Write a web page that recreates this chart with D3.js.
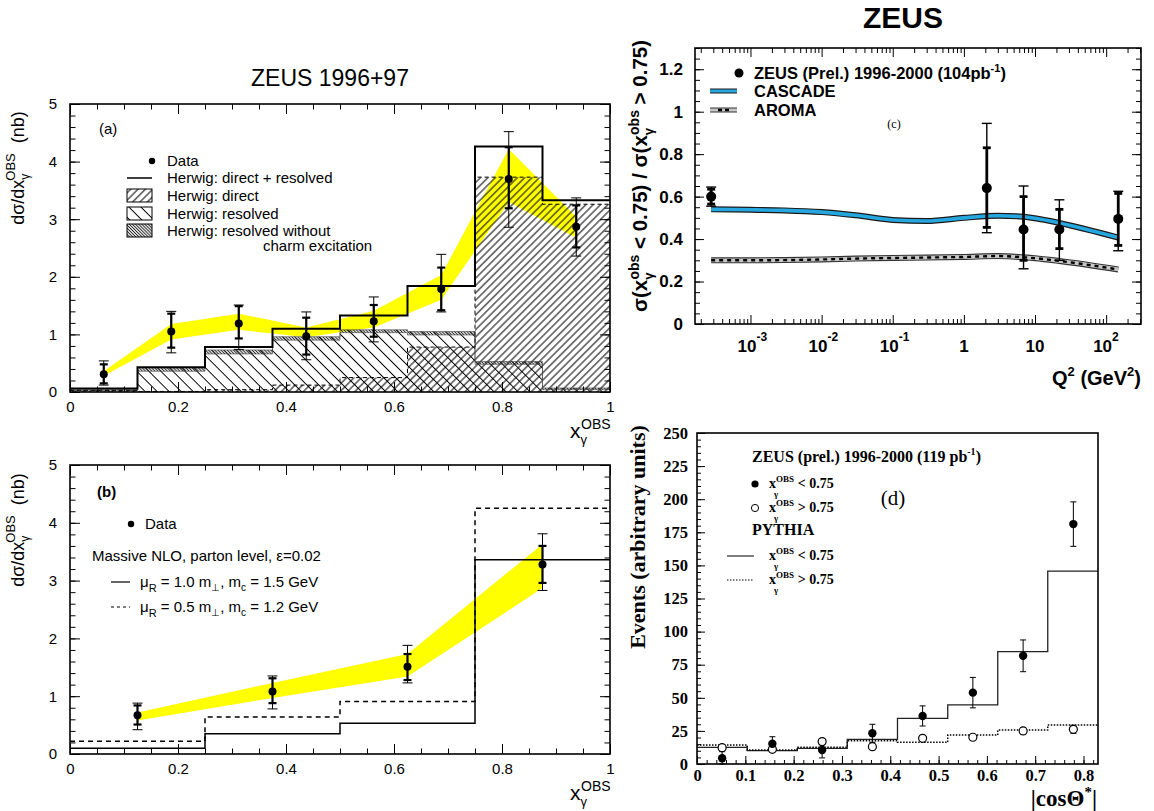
<!DOCTYPE html>
<html>
<head>
<meta charset="utf-8">
<script src="https://cdn.jsdelivr.net/npm/d3@7"></script>
<style>
body { margin: 0; background: #fff; }
svg { display: block; }
text { white-space: pre; }
</style>
</head>
<body>
<div id="chart"></div>
<script>
// ---- panel (a): ZEUS 1996+97, Herwig
var aEdges = [0, 0.125, 0.25, 0.375, 0.5, 0.625, 0.75, 0.875, 1];
var aX = [0.0625, 0.1875, 0.3125, 0.4375, 0.5625, 0.6875, 0.8125, 0.9375];
var aY = [0.31, 1.05, 1.19, 0.97, 1.23, 1.79, 3.70, 2.87];
var aStatLo = [0.15, 0.77, 0.93, 0.65, 0.96, 1.42, 3.19, 2.51];
var aStatHi = [0.48, 1.36, 1.49, 1.29, 1.51, 2.16, 4.25, 3.24];
var aTotLo = [0.12, 0.68, 0.74, 0.56, 0.87, 1.39, 2.86, 2.36];
var aTotHi = [0.54, 1.40, 1.51, 1.39, 1.65, 2.39, 4.52, 3.37];
var aBandLo = [0.28, 0.91, 1.08, 0.95, 1.12, 1.60, 3.30, 2.68];
var aBandHi = [0.36, 1.18, 1.36, 1.12, 1.41, 2.03, 4.22, 3.04];
var aTotal = [0.06, 0.43, 0.78, 1.10, 1.33, 1.84, 4.26, 3.33];
var aDirect = [0.03, 0.01, 0.04, 0.12, 0.25, 0.78, 3.73, 3.26];
var aResolved = [0.04, 0.42, 0.73, 0.96, 1.08, 1.05, 0.53, 0.07];
var aNoCharm = [0.02, 0.36, 0.66, 0.90, 1.03, 0.99, 0.48, 0.04];

// ---- panel (b): massive NLO
var bEdges = [0, 0.25, 0.5, 0.75, 1];
var bX = [0.125, 0.375, 0.625, 0.875];
var bY = [0.67, 1.08, 1.51, 3.28];
var bStatLo = [0.51, 0.88, 1.28, 2.96];
var bStatHi = [0.84, 1.31, 1.73, 3.60];
var bTotLo = [0.42, 0.78, 1.23, 2.83];
var bTotHi = [0.88, 1.35, 1.88, 3.81];
var bBandLo = [0.58, 0.97, 1.34, 2.87];
var bBandHi = [0.72, 1.23, 1.73, 3.63];
var bNlo10 = [0.10, 0.35, 0.53, 3.36];   // muR = 1.0 m, mc = 1.5
var bNlo05 = [0.22, 0.64, 0.91, 4.25];   // muR = 0.5 m, mc = 1.2

// ---- panel (c): ratio vs Q2
var cQ2 = [2.8e-4, 2.1, 6.9, 22, 148];
var cRatio = [0.60, 0.64, 0.445, 0.445, 0.495];
var cStatLo = [0.565, 0.455, 0.30, 0.355, 0.37];
var cStatHi = [0.635, 0.83, 0.60, 0.54, 0.615];
var cTotLo = [0.555, 0.43, 0.26, 0.30, 0.345];
var cTotHi = [0.645, 0.945, 0.65, 0.585, 0.625];
var cCurveQ2 = [2.8e-4, 1e-3, 3e-3, 1e-2, 3e-2, 0.1, 0.3, 1, 3, 7, 10, 22, 148];
var cCascade = [0.540, 0.538, 0.535, 0.527, 0.512, 0.490, 0.485, 0.500, 0.510, 0.505, 0.498, 0.476, 0.407];
var cAroma = [0.300, 0.300, 0.301, 0.304, 0.308, 0.311, 0.313, 0.316, 0.320, 0.314, 0.310, 0.297, 0.257];

// ---- panel (d): |cos theta*|
var dEdges = [0, 0.104, 0.2075, 0.311, 0.415, 0.519, 0.6225, 0.726, 0.83];
var dX = [0.052, 0.156, 0.259, 0.363, 0.467, 0.571, 0.675, 0.779];
var dLow = [4.3, 15.3, 10.6, 23.2, 36.3, 53.9, 81.7, 181.2];
var dLowErr = [5, 5.3, 6, 6.8, 7.6, 11.5, 12, 16.8];
var dHigh = [12.3, 11.1, 16.9, 13.1, 19.4, 20.2, 25.0, 26.2];
var dHighErr = [1.8, 1.5, 2, 2, 2, 2, 2.5, 3];
var dPyLow = [12.6, 10.1, 11.8, 18.6, 34.5, 44.6, 84.9, 145.7];
var dPyHigh = [14.4, 10.6, 12.6, 17.6, 16.4, 21.9, 25.7, 29.5];

// tick labels
var abXTicks = [0, 0.2, 0.4, 0.6, 0.8, 1];
var abYTicks = [0, 1, 2, 3, 4, 5];
var cXTicks = [1e-3, 1e-2, 1e-1, 1, 10, 100];
var cXExp = ["-3", "-2", "-1", "", "", "2"];
var cYTicks = [0, 0.2, 0.4, 0.6, 0.8, 1, 1.2];
var dXTicks = [0, 0.1, 0.2, 0.3, 0.4, 0.5, 0.6, 0.7, 0.8];
var dYTicks = [0, 25, 50, 75, 100, 125, 150, 175, 200, 225, 250];

var SANS = "'Liberation Sans', Arial, sans-serif";
var SERIF = "'Liberation Serif', 'Times New Roman', serif";

var svg = d3.select("#chart").append("svg")
    .attr("width", 1154)
    .attr("height", 811);
svg.append("rect").attr("width", 1154).attr("height", 811).attr("fill", "#fff");

var defs = svg.append("defs");
function hatch(id, angle, gap, sw, color) {
    var p = defs.append("pattern").attr("id", id)
        .attr("patternUnits", "userSpaceOnUse")
        .attr("width", gap).attr("height", gap)
        .attr("patternTransform", "rotate(" + angle + ")");
    p.append("line").attr("x1", gap / 2).attr("y1", 0).attr("x2", gap / 2).attr("y2", gap)
        .attr("stroke", color).attr("stroke-width", sw);
}
hatch("hDirect", 45, 5.2, 1, "#000");
hatch("hResolved", -45, 8.5, 1, "#000");
hatch("hDense", -45, 2.2, 1, "#222");

var xa = d3.scaleLinear().domain([0, 1]).range([70, 610]);
var ya = d3.scaleLinear().domain([0, 5]).range([392, 104]);
var xb = d3.scaleLinear().domain([0, 1]).range([70, 610]);
var yb = d3.scaleLinear().domain([0, 5]).range([754, 465]);
var xc = d3.scaleLog().domain([Math.pow(10, -3.78), Math.pow(10, 2.49)]).range([695, 1141]);
var yc = d3.scaleLinear().domain([0, 1.3]).range([324, 48]);
var xd = d3.scaleLinear().domain([0, 0.83]).range([697, 1098]);
var yd = d3.scaleLinear().domain([0, 250]).range([764, 433]);

function txt(x, y, size, opt) {
    opt = opt || {};
    var t = svg.append("text").attr("x", x).attr("y", y)
        .attr("font-family", opt.serif ? SERIF : SANS)
        .attr("font-size", size)
        .attr("text-anchor", opt.anchor || "start")
        .attr("fill", "#000");
    if (opt.bold) t.attr("font-weight", "bold");
    if (opt.rot) t.attr("transform", "rotate(-90," + x + "," + y + ")");
    return t;
}

// parts: [text, baseline shift, font size, dx]
function rich(t, parts) {
    var cur = 0;
    parts.forEach(function (p) {
        var s = p[1] || 0;
        var ts = t.append("tspan").text(p[0]).attr("dy", s - cur);
        cur = s;
        if (p[2]) ts.attr("font-size", p[2]);
        if (p[3]) ts.attr("dx", p[3]);
    });
    return t;
}

function tickSet(axisFn, scale, vals, len, tx, ty) {
    svg.append("g")
        .attr("transform", "translate(" + tx + "," + ty + ")")
        .call(axisFn(scale).tickValues(vals).tickSize(-len).tickSizeOuter(0).tickFormat(""))
        .call(function (g) {
            g.select(".domain").remove();
            g.selectAll("line").attr("stroke", "#000").attr("stroke-width", 1);
        });
}

function frameTicks(x, y, xMaj, xMin, yMaj, yMin, L, l, all) {
    var X0 = x.range()[0], X1 = x.range()[1], Y0 = y.range()[0], Y1 = y.range()[1];
    tickSet(d3.axisBottom, x, xMaj, L, 0, Y0);
    tickSet(d3.axisBottom, x, xMin, l, 0, Y0);
    tickSet(d3.axisLeft, y, yMaj, L, X0, 0);
    tickSet(d3.axisLeft, y, yMin, l, X0, 0);
    if (all) {
        tickSet(d3.axisTop, x, xMaj, L, 0, Y1);
        tickSet(d3.axisTop, x, xMin, l, 0, Y1);
        tickSet(d3.axisRight, y, yMaj, L, X1, 0);
        tickSet(d3.axisRight, y, yMin, l, X1, 0);
    }
    svg.append("rect").attr("x", X0).attr("y", Y1)
        .attr("width", X1 - X0).attr("height", Y0 - Y1)
        .attr("fill", "none").attr("stroke", "#000").attr("stroke-width", 1.6);
}

function tickLabels(axisFn, scale, vals, fmt, tx, ty, pad, size, opt) {
    opt = opt || {};
    svg.append("g")
        .attr("transform", "translate(" + tx + "," + ty + ")")
        .call(axisFn(scale).tickValues(vals).tickSize(0).tickPadding(pad).tickFormat(fmt))
        .call(function (g) {
            g.select(".domain").remove();
            g.selectAll("line").remove();
            g.attr("font-family", opt.serif ? SERIF : SANS).attr("font-size", size)
                .attr("font-weight", opt.bold ? "bold" : null);
            g.selectAll("text").attr("fill", "#000");
        });
}

function stepPts(edges, vals) {
    var pts = vals.map(function (v, i) { return [edges[i], v]; });
    pts.push([edges[edges.length - 1], vals[vals.length - 1]]);
    return pts;
}

function stepLine(x, y, edges, vals) {
    return d3.line().curve(d3.curveStepAfter)
        .x(function (d) { return x(d[0]); })
        .y(function (d) { return y(d[1]); })(stepPts(edges, vals));
}

function stepArea(x, y, edges, lo, hi) {
    var pts = hi.map(function (v, i) { return [edges[i], lo ? lo[i] : 0, v]; });
    pts.push([edges[edges.length - 1], lo ? lo[lo.length - 1] : 0, hi[hi.length - 1]]);
    return d3.area().curve(d3.curveStepAfter)
        .x(function (d) { return x(d[0]); })
        .y0(function (d) { return y(d[1]); })
        .y1(function (d) { return y(d[2]); })(pts);
}

function band(x, y, xs, lo, hi) {
    var pts = xs.map(function (v, i) { return [v, lo[i], hi[i]]; });
    svg.append("path")
        .attr("d", d3.area()
            .x(function (d) { return x(d[0]); })
            .y0(function (d) { return y(d[1]); })
            .y1(function (d) { return y(d[2]); })(pts))
        .attr("fill", "#ffff00");
}

function errBar(x, y, xv, lo, hi, sw, cap) {
    var g = svg.append("g").attr("stroke", "#000");
    g.append("line").attr("x1", x(xv)).attr("x2", x(xv)).attr("y1", y(lo)).attr("y2", y(hi)).attr("stroke-width", sw);
    [lo, hi].forEach(function (v) {
        g.append("line").attr("x1", x(xv) - cap).attr("x2", x(xv) + cap)
            .attr("y1", y(v)).attr("y2", y(v)).attr("stroke-width", sw);
    });
}

function dataPoints(x, y, xs, ys, statLo, statHi, totLo, totHi, r, wTot, wStat, cap) {
    xs.forEach(function (xv, i) {
        errBar(x, y, xv, totLo[i], totHi[i], wTot, cap);
        errBar(x, y, xv, statLo[i], statHi[i], wStat, cap - 1);
    });
    svg.append("g").selectAll("circle").data(xs).enter().append("circle")
        .attr("cx", function (d) { return x(d); })
        .attr("cy", function (d, i) { return y(ys[i]); })
        .attr("r", r).attr("fill", "#000");
}

var xgParts = [["x", 0, 21], ["\u03b3", 6, 13], ["OBS", -9, 14, -6]];

// =================== panel (a)
txt(330, 86, 23, { anchor: "middle" }).text("ZEUS 1996+97");
band(xa, ya, aX, aBandLo, aBandHi);
svg.append("path").attr("d", stepArea(xa, ya, aEdges, null, aResolved)).attr("fill", "url(#hResolved)");
svg.append("path").attr("d", stepArea(xa, ya, aEdges, null, aDirect)).attr("fill", "url(#hDirect)");
svg.append("path").attr("d", stepArea(xa, ya, aEdges, aNoCharm, aResolved))
    .attr("fill", "url(#hDense)").attr("stroke", "#444").attr("stroke-width", 0.6);
svg.append("path").attr("d", stepLine(xa, ya, aEdges, aDirect))
    .attr("fill", "none").attr("stroke", "#000").attr("stroke-width", 1).attr("stroke-dasharray", "4,3");
svg.append("path").attr("d", stepLine(xa, ya, aEdges, aTotal))
    .attr("fill", "none").attr("stroke", "#000").attr("stroke-width", 2);
dataPoints(xa, ya, aX, aY, aStatLo, aStatHi, aTotLo, aTotHi, 4, 1, 2.2, 5);
frameTicks(xa, ya, abXTicks, xa.ticks(20), abYTicks, ya.ticks(25), 10, 5.5, true);
tickLabels(d3.axisBottom, xa, abXTicks, String, 0, 392, 9, 15);
tickLabels(d3.axisLeft, ya, abYTicks, String, 70, 0, 13, 15);
rich(txt(570, 438, 21), xgParts);
rich(txt(24, 168, 18, { rot: true, anchor: "middle" }),
    [["d\u03c3/dx", 0, 18], ["\u03b3", 5, 12], ["OBS", -9, 13, -7], ["  (nb)", 0, 18]]);

// legend (a)
txt(99, 134, 15).text("(a)");
svg.append("circle").attr("cx", 152).attr("cy", 161).attr("r", 3.2).attr("fill", "#000");
txt(167, 166, 15).text("Data");
svg.append("line").attr("x1", 127).attr("x2", 152).attr("y1", 178).attr("y2", 178)
    .attr("stroke", "#000").attr("stroke-width", 1.5);
txt(167, 183, 15).text("Herwig: direct + resolved");
[["url(#hDirect)", 189, "Herwig: direct"], ["url(#hResolved)", 207, "Herwig: resolved"],
 ["url(#hDense)", 224, "Herwig: resolved without"]].forEach(function (e) {
    svg.append("rect").attr("x", 127).attr("y", e[1]).attr("width", 25).attr("height", 13)
        .attr("fill", e[0]).attr("stroke", "#000").attr("stroke-width", 1);
    txt(167, e[1] + 12, 15).text(e[2]);
});
txt(263, 251, 15).text("charm excitation");

// =================== panel (b)
band(xb, yb, bX, bBandLo, bBandHi);
svg.append("path").attr("d", stepLine(xb, yb, bEdges, bNlo05))
    .attr("fill", "none").attr("stroke", "#000").attr("stroke-width", 1.5).attr("stroke-dasharray", "5,4");
svg.append("path").attr("d", stepLine(xb, yb, bEdges, bNlo10))
    .attr("fill", "none").attr("stroke", "#000").attr("stroke-width", 1.5);
dataPoints(xb, yb, bX, bY, bStatLo, bStatHi, bTotLo, bTotHi, 4, 1, 2.2, 5);
frameTicks(xb, yb, abXTicks, xb.ticks(20), abYTicks, yb.ticks(25), 10, 5.5, true);
tickLabels(d3.axisBottom, xb, abXTicks, String, 0, 754, 9, 15);
tickLabels(d3.axisLeft, yb, abYTicks, String, 70, 0, 13, 15);
rich(txt(570, 800, 21), xgParts);
rich(txt(24, 530, 18, { rot: true, anchor: "middle" }),
    [["d\u03c3/dx", 0, 18], ["\u03b3", 5, 12], ["OBS", -9, 13, -7], ["  (nb)", 0, 18]]);

// legend (b)
txt(97, 497, 15, { bold: true }).text("(b)");
svg.append("circle").attr("cx", 131).attr("cy", 524).attr("r", 3.2).attr("fill", "#000");
txt(145, 529, 15).text("Data");
txt(92, 561, 15).text("Massive NLO, parton level, \u03b5=0.02");
svg.append("line").attr("x1", 111).attr("x2", 130).attr("y1", 582).attr("y2", 582)
    .attr("stroke", "#000").attr("stroke-width", 1.2);
svg.append("line").attr("x1", 111).attr("x2", 130).attr("y1", 607).attr("y2", 607)
    .attr("stroke", "#000").attr("stroke-width", 1.2).attr("stroke-dasharray", "3,3");
[[587, "1.0", "1.5"], [612, "0.5", "1.2"]].forEach(function (e) {
    rich(txt(140, e[0], 15), [["\u03bc", 0], ["R", 5, 11], [" = " + e[1] + " m", 0, 15], ["\u22a5", 4, 10],
        [", m", 0, 15], ["c", 4, 10], [" = " + e[2] + " GeV", 0, 15]]);
});

// =================== panel (c)
txt(903, 28, 30, { bold: true, anchor: "middle" }).text("ZEUS");
var cLine = d3.line().curve(d3.curveMonotoneX)
    .x(function (d) { return xc(d[0]); })
    .y(function (d) { return yc(d[1]); });
var cascPts = cCurveQ2.map(function (q, i) { return [q, cCascade[i]]; });
var aromaPts = cCurveQ2.map(function (q, i) { return [q, cAroma[i]]; });
svg.append("path").attr("d", cLine(cascPts)).attr("fill", "none").attr("stroke", "#1a1a1a").attr("stroke-width", 6);
svg.append("path").attr("d", cLine(cascPts)).attr("fill", "none").attr("stroke", "#27a7df").attr("stroke-width", 3.6);
svg.append("path").attr("d", cLine(aromaPts)).attr("fill", "none").attr("stroke", "#333").attr("stroke-width", 6);
svg.append("path").attr("d", cLine(aromaPts)).attr("fill", "none").attr("stroke", "#c8c8c8").attr("stroke-width", 3.8);
svg.append("path").attr("d", cLine(aromaPts)).attr("fill", "none").attr("stroke", "#000").attr("stroke-width", 2.4)
    .attr("stroke-dasharray", "4,4");
dataPoints(xc, yc, cQ2, cRatio, cStatLo, cStatHi, cTotLo, cTotHi, 5, 1.4, 2.8, 5);
var cMinor = xc.ticks().filter(function (v) { return cXTicks.indexOf(v) < 0; });
frameTicks(xc, yc, cXTicks, cMinor, cYTicks, yc.ticks(26), 9, 5, true);
tickLabels(d3.axisLeft, yc, cYTicks, String, 695, 0, 12, 17, { bold: true });
cXTicks.forEach(function (v, i) {
    if (cXExp[i] === "") {
        txt(xc(v), 352, 17, { bold: true, anchor: "middle" }).text(v === 1 ? "1" : "10");
    } else {
        rich(txt(xc(v) - 13, 352, 17, { bold: true }), [["10", 0, 17], [cXExp[i], -11, 12]]);
    }
});
rich(txt(1141, 385, 20, { bold: true, anchor: "end" }),
    [["Q", 0, 20], ["2", -9, 13], [" (GeV", 0, 20], ["2", -9, 13], [")", 0, 20]]);
rich(txt(647, 176, 20.5, { bold: true, rot: true, anchor: "middle" }),
    [["\u03c3(x", 0, 20.5], ["\u03b3", 6, 13], ["obs", -8, 14, -7], [" < 0.75) / \u03c3(x", 0, 20.5],
     ["\u03b3", 6, 13], ["obs", -8, 14, -7], [" > 0.75)", 0, 20.5]]);
// legend (c)
svg.append("circle").attr("cx", 739).attr("cy", 73).attr("r", 4.5).attr("fill", "#000");
rich(txt(754, 79, 16.5, { bold: true }), [["ZEUS (Prel.) 1996-2000 (104pb", 0, 16.5], ["-1", -7, 11], [")", 0, 16.5]]);
svg.append("line").attr("x1", 710).attr("x2", 737).attr("y1", 91).attr("y2", 91).attr("stroke", "#1a1a1a").attr("stroke-width", 5);
svg.append("line").attr("x1", 710).attr("x2", 737).attr("y1", 91).attr("y2", 91).attr("stroke", "#27a7df").attr("stroke-width", 3);
txt(754, 97, 16.5, { bold: true }).text("CASCADE");
svg.append("line").attr("x1", 710).attr("x2", 737).attr("y1", 110).attr("y2", 110).attr("stroke", "#333").attr("stroke-width", 5);
svg.append("line").attr("x1", 710).attr("x2", 737).attr("y1", 110).attr("y2", 110).attr("stroke", "#c8c8c8").attr("stroke-width", 3);
svg.append("line").attr("x1", 718).attr("x2", 729).attr("y1", 110).attr("y2", 110).attr("stroke", "#000").attr("stroke-width", 2.4)
    .attr("stroke-dasharray", "4,3");
txt(754, 116, 16.5, { bold: true }).text("AROMA");
txt(894, 128, 12, { serif: true, anchor: "middle" }).text("(c)");

// =================== panel (d)
svg.append("path").attr("d", stepLine(xd, yd, dEdges, dPyLow))
    .attr("fill", "none").attr("stroke", "#222").attr("stroke-width", 1.3);
svg.append("path").attr("d", stepLine(xd, yd, dEdges, dPyHigh))
    .attr("fill", "none").attr("stroke", "#000").attr("stroke-width", 1.5).attr("stroke-dasharray", "1.5,1.5");
dX.forEach(function (xv, i) {
    errBar(xd, yd, xv, Math.max(0, dLow[i] - dLowErr[i]), dLow[i] + dLowErr[i], 1, 3);
    errBar(xd, yd, xv, dHigh[i] - dHighErr[i], dHigh[i] + dHighErr[i], 1, 3);
});
svg.append("g").selectAll("circle").data(dX).enter().append("circle")
    .attr("cx", function (d) { return xd(d); })
    .attr("cy", function (d, i) { return yd(dHigh[i]); })
    .attr("r", 4).attr("fill", "#fff").attr("stroke", "#000").attr("stroke-width", 1.2);
svg.append("g").selectAll("circle").data(dX).enter().append("circle")
    .attr("cx", function (d) { return xd(d); })
    .attr("cy", function (d, i) { return yd(dLow[i]); })
    .attr("r", 4.2).attr("fill", "#000");
frameTicks(xd, yd, dXTicks, xd.ticks(40), dYTicks, yd.ticks(50), 8, 4, false);
tickLabels(d3.axisBottom, xd, dXTicks, String, 0, 764, 5, 16.5, { serif: true, bold: true });
tickLabels(d3.axisLeft, yd, dYTicks, String, 697, 0, 9, 16.5, { serif: true, bold: true });
txt(645, 537, 22, { serif: true, bold: true, rot: true, anchor: "middle" }).text("Events (arbitrary units)");
rich(txt(1097, 806, 23, { serif: true, bold: true, anchor: "end" }),
    [["|cos\u0398", 0, 23], ["*", -9, 15], ["|", 0, 23]]);
// legend (d)
rich(txt(752, 462, 16, { serif: true, bold: true }),
    [["ZEUS (prel.) 1996-2000 (119 pb", 0, 16], ["-1", -7, 10], [")", 0, 16]]);
function xgSerif(x, y, tail) {
    rich(txt(x, y, 14, { serif: true, bold: true }),
        [["x", 0, 14], ["OBS", -6, 9], ["\u03b3", 9, 9, -20], [tail, 0, 14, 16]]);
}
svg.append("circle").attr("cx", 755).attr("cy", 484).attr("r", 3.6).attr("fill", "#000");
xgSerif(769, 488, " < 0.75");
svg.append("circle").attr("cx", 755).attr("cy", 508).attr("r", 3.6).attr("fill", "#fff").attr("stroke", "#000").attr("stroke-width", 1);
xgSerif(769, 512, " > 0.75");
txt(752, 535, 16, { serif: true, bold: true }).text("PYTHIA");
svg.append("line").attr("x1", 727).attr("x2", 754).attr("y1", 556).attr("y2", 556).attr("stroke", "#000").attr("stroke-width", 1);
xgSerif(769, 560, " < 0.75");
svg.append("line").attr("x1", 727).attr("x2", 754).attr("y1", 580).attr("y2", 580).attr("stroke", "#000").attr("stroke-width", 1.2)
    .attr("stroke-dasharray", "1.5,1.5");
xgSerif(769, 584, " > 0.75");
txt(893, 505, 21, { serif: true, anchor: "middle" }).text("(d)");
</script>
</body>
</html>
